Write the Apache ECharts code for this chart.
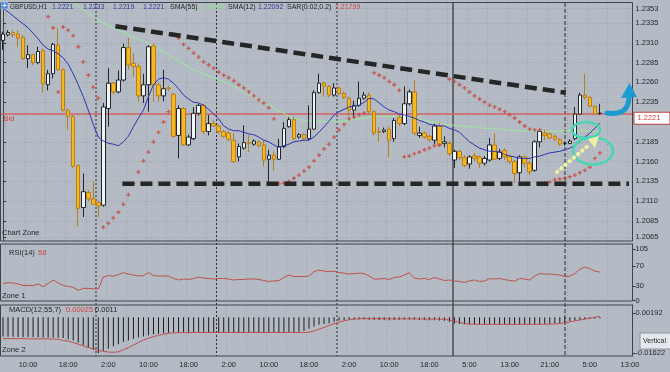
<!DOCTYPE html>
<html><head><meta charset="utf-8">
<script src="https://cdn.jsdelivr.net/npm/echarts@6/dist/echarts.min.js"></script>
<style>html,body{margin:0;padding:0;background:#b4bbc4}#c{width:670px;height:372px}</style>
</head><body><div id="c"></div>
<script>
// ---------- DATA ----------
const tickLabels = ['10:00','18:00','2:00','10:00','18:00','2:00','10:00','18:00','2:00','10:00','18:00','5:00','13:00','21:00','5:00','13:00'];
// candles: [open, close, low, high]
const candles = [
[1.2313,1.2321,1.2301,1.2324],[1.2320,1.2323,1.2318,1.2326],[1.2323,1.2320,1.2317,1.2326],[1.2321,1.2316,1.2305,1.2326],
[1.2317,1.2290,1.2288,1.2320],[1.2290,1.2295,1.2278,1.2307],[1.2295,1.2285,1.2282,1.2296],[1.2285,1.2299,1.2283,1.2305],
[1.2300,1.2258,1.2247,1.2303],[1.2257,1.2271,1.2250,1.2276],[1.2271,1.2308,1.2265,1.2310],[1.2307,1.2276,1.2275,1.2328],
[1.2276,1.2225,1.2223,1.2278],[1.2225,1.2217,1.2200,1.2227],[1.2217,1.2154,1.2152,1.2219],[1.2155,1.2101,1.2078,1.2156],
[1.2102,1.2122,1.2090,1.2145],[1.2121,1.2113,1.2110,1.2124],[1.2113,1.2106,1.2105,1.2135],[1.2108,1.2104,1.2090,1.2111],
[1.2105,1.2229,1.2103,1.2234],[1.2227,1.2259,1.2204,1.2278],[1.2259,1.2248,1.2245,1.2260],[1.2248,1.2263,1.2246,1.2275],
[1.2263,1.2304,1.2261,1.2309],[1.2304,1.2282,1.2276,1.2316],[1.2284,1.2280,1.2267,1.2297],[1.2280,1.2243,1.2236,1.2284],
[1.2243,1.2257,1.2234,1.2271],[1.2257,1.2305,1.2223,1.2307],[1.2306,1.2257,1.2236,1.2309],[1.2257,1.2243,1.2236,1.2259],
[1.2243,1.2252,1.2236,1.2276],[1.2253,1.2252,1.2249,1.2256],[1.2245,1.2192,1.2190,1.2247],[1.2193,1.2227,1.2164,1.2231],
[1.2227,1.2181,1.2180,1.2229],[1.2181,1.2191,1.2180,1.2194],[1.2189,1.2221,1.2187,1.2229],[1.2221,1.2231,1.2218,1.2233],
[1.2231,1.2198,1.2194,1.2233],[1.2198,1.2208,1.2193,1.2219],[1.2208,1.2205,1.2204,1.2212],[1.2205,1.2198,1.2195,1.2207],
[1.2198,1.2192,1.2190,1.2200],[1.2196,1.2188,1.2186,1.2199],[1.2187,1.2160,1.2158,1.2196],[1.2166,1.2179,1.2160,1.2183],
[1.2177,1.2184,1.2175,1.2206],[1.2184,1.2183,1.2172,1.2194],[1.2182,1.2186,1.2180,1.2188],[1.2185,1.2180,1.2178,1.2187],
[1.2181,1.2162,1.2154,1.2187],[1.2163,1.2168,1.2133,1.2175],[1.2168,1.2163,1.2149,1.2173],[1.2163,1.2179,1.2162,1.2189],
[1.2179,1.2202,1.2177,1.2210],[1.2204,1.2213,1.2203,1.2216],[1.2213,1.2189,1.2187,1.2217],[1.2191,1.2194,1.2189,1.2196],
[1.2194,1.2189,1.2187,1.2196],[1.2189,1.2201,1.2187,1.2231],[1.2201,1.2247,1.2200,1.2250],[1.2247,1.2259,1.2246,1.2271],
[1.2259,1.2255,1.2242,1.2261],[1.2255,1.2244,1.2241,1.2257],[1.2244,1.2253,1.2242,1.2259],[1.2253,1.2246,1.2244,1.2255],
[1.2246,1.2241,1.2239,1.2248],[1.2240,1.2225,1.2217,1.2242],[1.2225,1.2231,1.2217,1.2237],[1.2231,1.2240,1.2229,1.2261],
[1.2240,1.2244,1.2238,1.2248],[1.2244,1.2223,1.2219,1.2247],[1.2223,1.2196,1.2193,1.2225],[1.2198,1.2197,1.2185,1.2204],
[1.2198,1.2200,1.2196,1.2203],[1.2201,1.2187,1.2165,1.2204],[1.2189,1.2212,1.2185,1.2215],[1.2216,1.2208,1.2205,1.2220],
[1.2208,1.2233,1.2206,1.2255],[1.2233,1.2248,1.2231,1.2251],[1.2248,1.2196,1.2193,1.2263],[1.2193,1.2196,1.2190,1.2204],
[1.2196,1.2191,1.2189,1.2198],[1.2192,1.2188,1.2185,1.2194],[1.2187,1.2205,1.2181,1.2208],[1.2205,1.2181,1.2179,1.2209],
[1.2183,1.2185,1.2178,1.2192],[1.2183,1.2170,1.2167,1.2186],[1.2162,1.2173,1.2152,1.2175],[1.2173,1.2165,1.2162,1.2175],
[1.2165,1.2155,1.2153,1.2168],[1.2157,1.2166,1.2151,1.2168],[1.2167,1.2164,1.2160,1.2171],[1.2166,1.2158,1.2152,1.2168],
[1.2158,1.2164,1.2155,1.2167],[1.2162,1.2181,1.2160,1.2190],[1.2181,1.2163,1.2162,1.2196],[1.2164,1.2172,1.2162,1.2176],
[1.2174,1.2166,1.2162,1.2177],[1.2167,1.2160,1.2157,1.2169],[1.2160,1.2145,1.2133,1.2162],[1.2146,1.2166,1.2135,1.2168],
[1.2166,1.2158,1.2153,1.2168],[1.2158,1.2147,1.2143,1.2161],[1.2149,1.2185,1.2147,1.2187],[1.2185,1.2198,1.2178,1.2200],
[1.2196,1.2193,1.2187,1.2200],[1.2195,1.2190,1.2188,1.2197],[1.2192,1.2188,1.2186,1.2194],[1.2188,1.2182,1.2180,1.2190],
[1.2183,1.2183,1.2180,1.2185],[1.2183,1.2186,1.2182,1.2188],[1.2189,1.2220,1.2187,1.2229],[1.2220,1.2244,1.2219,1.2247],
[1.2244,1.2241,1.2238,1.2271],[1.2241,1.2230,1.2228,1.2243],[1.2230,1.2220,1.2219,1.2231],[1.2221,1.2221,1.2219,1.2233]
];
const sma12 = [1.2354,1.2349,1.2344,1.2339,1.2334,1.2329,1.2322,1.2315,1.2307,1.2302,
1.2300,1.2296,1.2291,1.2283,1.2271,1.2257,1.2242,1.2225,1.2207,1.2191,
1.2186,1.2183,1.2182,1.2180,1.2185,1.2192,1.2204,1.2215,1.2225,1.2242,
1.2257,1.2264,1.2266,1.2264,1.2259,1.2252,1.2244,1.2239,1.2235,1.2234,
1.2231,1.2226,1.2220,1.2214,1.2205,1.2201,1.2199,1.2199,1.2197,1.2195,
1.2194,1.2191,1.2187,1.2185,1.2181,1.2178,1.2180,1.2182,1.2185,1.2186,
1.2187,1.2187,1.2191,1.2197,1.2204,1.2211,1.2219,1.2223,1.2226,1.2229,
1.2230,1.2231,1.2235,1.2240,1.2239,1.2234,1.2229,1.2225,1.2223,1.2220,
1.2219,1.2217,1.2215,1.2212,1.2210,1.2207,1.2206,1.2205,1.2205,1.2202,
1.2200,1.2197,1.2191,1.2185,1.2181,1.2177,1.2175,1.2173,1.2173,1.2172,
1.2169,1.2167,1.2166,1.2164,1.2164,1.2164,1.2166,1.2167,1.2169,1.2171,
1.2172,1.2173,1.2175,1.2177,1.2180,1.2185,1.2191,1.2196,1.2202,1.2209];
const sma55 = [null,null,null,null,null,null,null,null,null,null,null,null,null,null,
1.2361,1.2357,1.2352,1.2347,1.2343,1.2338,1.2335,1.2332,1.2329,1.2326,1.2323,1.2320,1.2317,1.2315,1.2312,1.2309,
1.2306,1.2302,1.2298,1.2295,1.2291,1.2287,1.2283,1.2279,1.2276,1.2273,1.2271,1.2268,1.2266,1.2263,1.2261,1.2258,
1.2255,1.2252,1.2248,1.2245,1.2242,1.2239,1.2235,1.2231,1.2228,1.2224,1.2221,1.2217,1.2215,1.2213,1.2212,1.2211,
1.2211,1.2211,1.2211,1.2211,1.2211,1.2211,1.2211,1.2212,1.2214,1.2214,1.2215,1.2216,1.2216,1.2217,1.2217,1.2217,
1.2217,1.2217,1.2216,1.2216,1.2215,1.2214,1.2212,1.2211,1.2210,1.2209,1.2207,1.2206,1.2206,1.2205,1.2204,1.2204,
1.2204,1.2203,1.2202,1.2202,1.2202,1.2201,1.2200,1.2200,1.2199,1.2199,1.2199,1.2198,1.2198,1.2198,1.2198,1.2198,
1.2198,1.2198,1.2199,1.2199,1.2199,1.2199,1.2199,1.2198,1.2198,1.2198];
const sar = [null,null,null,null,null,null,null,null,null,
1.2343,1.2329,1.2248,1.2330,1.2326,1.2319,1.2305,1.2286,1.2269,1.2254,1.2240,
1.2077,1.2082,1.2089,1.2096,1.2106,1.2118,1.2132,1.2147,1.2161,1.2172,1.2185,1.2197,1.2210,1.2223,
null,
1.2316,1.2308,1.2303,1.2297,1.2292,1.2286,1.2282,1.2278,1.2273,1.2269,1.2266,1.2262,1.2257,1.2253,1.2248,1.2243,1.2238,1.2234,1.2228,1.2214,
1.2132,1.2133,1.2135,1.2139,1.2143,1.2148,1.2153,1.2161,1.2168,1.2176,1.2182,1.2191,1.2200,1.2207,1.2214,1.2216,1.2219,1.2221,
null,
1.2272,1.2269,1.2266,1.2261,1.2257,1.2250,
1.2166,1.2167,1.2170,1.2172,1.2175,1.2177,1.2180,1.2181,
null,
1.2264,1.2261,1.2257,1.2253,1.2248,1.2243,1.2239,1.2235,1.2231,1.2229,1.2226,1.2223,1.2219,1.2215,1.2210,1.2205,1.2201,1.2200,1.2200,
1.2133,1.2134,1.2137,1.2138,1.2139,1.2141,1.2143,1.2146,1.2149,1.2153,1.2164,1.2171];
const rsi = [35,36.5,36,34,31,31,30.5,34,28.5,35,42,36,31,29,27,21,25,25,24,24,
48,51,50,53,57,54,52,50,51,57,51,50,50,50,45,42,44,43,45,48,
46,45,44,45,45,44,42,43,43,44,44,43,41,39,40,41,47,52,49,49,
49,50,59,62,60,59,60,57,56,54,55,56,55,50,44,44,45,43,47,48,
52,57,46,44,45,43,47,44,41,42,40,39,37,40,42,39,40,45,44,45,
43,41,40,45,44,42,50,55,54,54,53,52,49,50,55,64,68,65,60,58];
const macdHist = [-0.0087,-0.0088,-0.0088,-0.0089,-0.0089,-0.0090,-0.0090,-0.0091,-0.0092,-0.0092,-0.0092,-0.0093,-0.0094,
-0.0100,-0.0106,-0.0115,-0.0127,-0.0138,-0.0148,-0.0164,-0.0152,-0.0143,-0.0132,-0.0122,-0.0112,-0.0105,-0.0098,-0.0091,-0.0087,-0.0082,-0.0077,-0.0075,-0.0073,-0.0070,
-0.0069,-0.0069,-0.0070,-0.0070,-0.0069,-0.0068,-0.0069,-0.0069,-0.0070,-0.0070,-0.0070,-0.0069,-0.0070,-0.0070,-0.0070,-0.0070,-0.0070,-0.0070,-0.0071,-0.0071,-0.0071,-0.0070,-0.0069,-0.0068,-0.0068,
-0.0066,-0.0062,-0.0052,-0.0042,-0.0034,-0.0030,-0.0027,-0.0020,
-0.0014,-0.0012,-0.0011,-0.0010,-0.0010,-0.0010,-0.0011,-0.0012,-0.0012,-0.0012,-0.0013,-0.0012,-0.0011,-0.0010,-0.0010,-0.0011,-0.0012,-0.0012,-0.0013,-0.0013,-0.0014,-0.0016,-0.0020,
-0.0028,-0.0030,-0.0031,-0.0032,-0.0032,-0.0033,-0.0033,-0.0032,-0.0032,-0.0032,-0.0033,-0.0033,-0.0034,-0.0033,-0.0033,-0.0033,-0.0031,-0.0030,-0.0030,-0.0029,-0.0028,-0.0027,-0.0025,
-0.0018,-0.0014,-0.0011,-0.0009,-0.0007,-0.0006,-0.0005];
const macdSignal = [-0.0097,-0.0097,-0.0097,-0.0097,-0.0097,-0.0098,-0.0098,-0.0098,-0.0098,-0.0098,-0.0099,
-0.0100,-0.0105,-0.0108,-0.0115,-0.0122,-0.0130,-0.0137,-0.0144,-0.0151,-0.0155,-0.0158,-0.0159,-0.0157,-0.0148,-0.0138,-0.0126,-0.0115,-0.0104,-0.0095,-0.0088,-0.0082,-0.0077,-0.0073,-0.0071,
-0.0070,-0.0070,-0.0070,-0.0069,-0.0069,-0.0069,-0.0069,-0.0069,-0.0069,-0.0069,-0.0069,-0.0069,-0.0069,-0.0069,-0.0069,-0.0069,-0.0069,-0.0069,-0.0069,-0.0069,-0.0069,-0.0069,-0.0069,-0.0069,-0.0069,-0.0069,
-0.0068,-0.0062,-0.0054,-0.0046,-0.0037,-0.0029,-0.0022,-0.0016,-0.0011,-0.0008,
-0.0006,-0.0006,-0.0006,-0.0006,-0.0006,-0.0006,-0.0007,-0.0007,-0.0007,-0.0007,-0.0007,-0.0007,-0.0007,
-0.0008,-0.0008,-0.0008,-0.0008,-0.0009,
-0.0012,-0.0017,-0.0023,-0.0028,
-0.0031,-0.0031,-0.0032,-0.0032,-0.0032,-0.0032,-0.0032,-0.0032,-0.0032,-0.0032,-0.0032,-0.0032,-0.0032,-0.0032,-0.0032,-0.0031,
-0.0031,-0.0030,-0.0028,-0.0025,-0.0021,-0.0016,-0.0012,-0.0008,-0.0004,0.0000,0.0004];
const bidPrice = 1.2221;
const upperTrend = [[22.4, 1.2331], [112.2, 1.2247]];
const lowerTrend = [[23.8, 1.2132], [124.8, 1.2132]];
const priceTicks = [1.2065,1.2085,1.2110,1.2135,1.2160,1.2185,1.2235,1.2260,1.2285,1.2310,1.2335,1.2353];
const rsiTicks = [0,30,70,105];
const macdTicks = [-0.01622, 0.00192];
const headerItems = [
  ['GBPUSD,H1','#1e2328'],['1.2221','#2c3c9c'],['1.2233','#2c3c9c'],['1.2219','#2c3c9c'],['1.2221','#2c3c9c'],
  ['SMA(55)','#1e2328'],['1.21978','#8fe08f'],['SMA(12)','#1e2328'],['1.22092','#2c3c9c'],['SAR(0.02,0.2)','#1e2328'],['1.21799','#d04848']
];

// ---------- CHART ----------
const N = 126;
const cats = Array.from({length: N}, (_, i) => String(i));
const FONT = 'Liberation Sans';
const TXT = '#1e2328';
const GRIDC = '#9aa3ad';
const BORDER = '#3e444c';

function catAxis(gridIndex, labels) {
  return {
    type: 'category', gridIndex, data: cats, boundaryGap: true,
    axisLine: {show: false}, axisTick: {show: false},
    axisLabel: labels ? {
      show: true, interval: (i) => (i - 5) % 8 === 0,
      formatter: (v) => { const i = Number(v); return (i - 5) % 8 === 0 ? tickLabels[(i - 5) / 8] : ''; },
      color: TXT, fontSize: 7.5, fontFamily: FONT, margin: 5
    } : {show: false},
    splitLine: {show: true, interval: (i) => (i - 1) % 4 === 0, lineStyle: {color: GRIDC, type: [1, 2], width: 1}}
  };
}
function valAxisY(gridIndex, min, max, ticks, fmt, extra) {
  return Object.assign({
    type: 'value', gridIndex, position: 'right', min, max, scale: true,
    axisLine: {show: true, lineStyle: {color: BORDER}},
    axisTick: {show: true, length: 3, customValues: ticks, lineStyle: {color: '#30353a'}},
    axisLabel: {show: true, customValues: ticks, formatter: fmt, color: TXT, fontSize: 7.5, fontFamily: FONT, margin: 3},
    splitLine: {show: false}
  }, extra || {});
}

const plus = 'path://M1,0H2V1H3V2H2V3H1V2H0V1H1Z';
const sepXs = [[96,[2,2],'#2a2a2a'],[216.5,[2,2],'#2a2a2a'],[337,[2,2],'#2a2a2a'],[453,null,'#151515'],[565,[4,2],'#2a2a2a']];

const graphic = [];
sepXs.forEach(([x, dash, c]) => graphic.push({type: 'line', z: 1, silent: true,
  shape: {x1: x, y1: 3, x2: x, y2: 356}, style: {stroke: c, lineWidth: 1, lineDash: dash}}));
[[2.5, 238.5], [244, 57], [305, 51]].forEach(([y, h]) => graphic.push({type: 'rect', z: 50, silent: true,
  shape: {x: 0.5, y, width: 632, height: h}, style: {fill: 'none', stroke: BORDER, lineWidth: 1}}));
// header
graphic.push({type: 'rect', z: 60, shape: {x: 1, y: 2, width: 7, height: 7}, style: {fill: '#4b8bd4', stroke: '#d8e6f5', lineWidth: 0.5}});
graphic.push({type: 'text', z: 61, x: 2.2, y: 5.7, style: {text: '+', fill: '#fff', fontSize: 8, fontWeight: 'bold', fontFamily: FONT, verticalAlign: 'middle'}});
const headerX = [10, 52, 83, 113, 143, 170, 200, 228, 258, 287, 335];
headerItems.forEach(([t, c], k) => graphic.push({type: 'text', z: 60, x: headerX[k], y: 7,
  style: {text: t, fill: c, fontSize: k === 0 ? 6.4 : 7, fontFamily: FONT, verticalAlign: 'middle'}}));
function txt(x, y, t, c, fs) { graphic.push({type: 'text', z: 60, x, y, style: {text: t, fill: c, fontSize: fs || 7.5, fontFamily: FONT, verticalAlign: 'middle'}}); }
txt(2, 233, 'Chart Zone', TXT);
txt(9, 253, 'RSI(14)', TXT); txt(38, 253, '58', '#cc4444');
txt(2, 296, 'Zone 1', TXT);
txt(9, 310, 'MACD(12,55,7)', TXT); txt(66, 310, '0.00025', '#cc4444'); txt(95, 310, '0.0011', TXT);
txt(2, 350, 'Zone 2', TXT);
graphic.push({type: 'rect', z: 60, shape: {x: 640, y: 333, width: 31, height: 16}, style: {fill: '#e4e8ec', stroke: '#8e959e', lineWidth: 1}});
txt(643, 341, 'Vertical', TXT, 7);
// annotations
graphic.push({type: 'ellipse', z: 70, shape: {cx: 586, cy: 130, rx: 14, ry: 8}, style: {fill: 'none', stroke: '#46d6b4', lineWidth: 2.5}});
graphic.push({type: 'ellipse', z: 70, shape: {cx: 593, cy: 151, rx: 20, ry: 13.5}, style: {fill: 'none', stroke: '#46d6b4', lineWidth: 2.5}});
graphic.push({type: 'polyline', z: 70, shape: {points: [[557, 172], [590, 144]]}, style: {stroke: '#eef0a2', lineWidth: 4, lineDash: [0.5, 5], lineCap: 'round', fill: 'none'}});
graphic.push({type: 'polygon', z: 70, shape: {points: [[599, 136], [588, 139], [595, 148]]}, style: {fill: '#eef0a2'}});
graphic.push({type: 'bezierCurve', z: 70, shape: {x1: 607, y1: 113, cpx1: 622, cpy1: 115, cpx2: 629, cpy2: 110, x2: 629, y2: 96}, style: {stroke: '#1b9bd1', lineWidth: 5, fill: 'none', lineCap: 'round'}});
graphic.push({type: 'polygon', z: 70, shape: {points: [[621, 98], [629.5, 83], [637, 97]]}, style: {fill: '#1b9bd1'}});

const chart = echarts.init(document.getElementById('c'), null, {renderer: 'canvas'});
chart.setOption({
  backgroundColor: '#b4bbc4',
  animation: false,
  textStyle: {fontFamily: FONT},
  grid: [
    {left: 0.5, top: 3.2, width: 632, height: 237.6},
    {left: 0.5, top: 244, width: 632, height: 56.7},
    {left: 0.5, top: 305, width: 632, height: 51}
  ],
  xAxis: [
    catAxis(0, false),
    {type: 'value', gridIndex: 0, min: -0.5, max: N - 0.5, show: false},
    catAxis(1, false),
    catAxis(2, true)
  ],
  yAxis: [
    valAxisY(0, 1.2060, 1.2360, priceTicks, (v) => v.toFixed(4),
      {interval: 0.0025, splitLine: {show: true, lineStyle: {color: GRIDC, type: [1, 2], width: 1}}}),
    valAxisY(1, 0, 115, rsiTicks, (v) => String(Math.round(v))),
    valAxisY(2, -0.0176, 0.0056, macdTicks, (v) => v.toFixed(5))
  ],
  graphic,
  series: [
    {type: 'candlestick', xAxisIndex: 0, yAxisIndex: 0, data: candles, barWidth: 4, z: 5,
      itemStyle: {color: '#eef5f6', color0: '#f6b81c', borderColor: '#22262a', borderColor0: '#b97e1c', borderWidth: 1}},
    {type: 'line', xAxisIndex: 0, yAxisIndex: 0, data: sma55, symbol: 'none', z: 4, lineStyle: {color: '#9de89d', width: 1}},
    {type: 'line', xAxisIndex: 0, yAxisIndex: 0, data: sma12, symbol: 'none', z: 6, lineStyle: {color: '#2d33b5', width: 1}},
    {type: 'scatter', xAxisIndex: 0, yAxisIndex: 0, data: sar, symbol: plus, symbolSize: 4, z: 6, itemStyle: {color: '#c8453f'}},
    {type: 'line', xAxisIndex: 1, yAxisIndex: 0, data: upperTrend, symbol: 'none', z: 8, lineStyle: {color: '#262626', width: 4.5, type: [12, 6]},
      markLine: {symbol: 'none', silent: true, animation: false, precision: 4, z: 3,
        data: [
          {yAxis: bidPrice, lineStyle: {color: '#d46262', width: 1.5, type: 'solid', opacity: 1},
            label: {show: true, position: 'end', formatter: bidPrice.toFixed(4), color: '#c44', fontSize: 7.5, fontFamily: FONT,
              backgroundColor: '#ffffff', borderColor: '#c04040', borderWidth: 1, padding: [2, 9, 1, 3], distance: 2, offset: [0, 5]}},
          {yAxis: bidPrice, lineStyle: {color: 'rgba(0,0,0,0)', width: 0},
            label: {show: true, position: 'insideStartBottom', formatter: 'Bid', color: '#c44', fontSize: 7.5, fontFamily: FONT, distance: [3, 2]}}
        ]}},
    {type: 'line', xAxisIndex: 1, yAxisIndex: 0, data: lowerTrend, symbol: 'none', z: 8, lineStyle: {color: '#262626', width: 4.5, type: [12, 6]}},
    {type: 'line', xAxisIndex: 2, yAxisIndex: 1, data: rsi, symbol: 'none', lineStyle: {color: '#c0504d', width: 1}},
    {type: 'bar', xAxisIndex: 3, yAxisIndex: 2, data: macdHist, barWidth: 1, itemStyle: {color: '#1c1c1c'}},
    {type: 'line', xAxisIndex: 3, yAxisIndex: 2, data: macdSignal, symbol: 'none', z: 4, lineStyle: {color: '#c0504d', width: 1}}
  ]
});
</script></body></html>
